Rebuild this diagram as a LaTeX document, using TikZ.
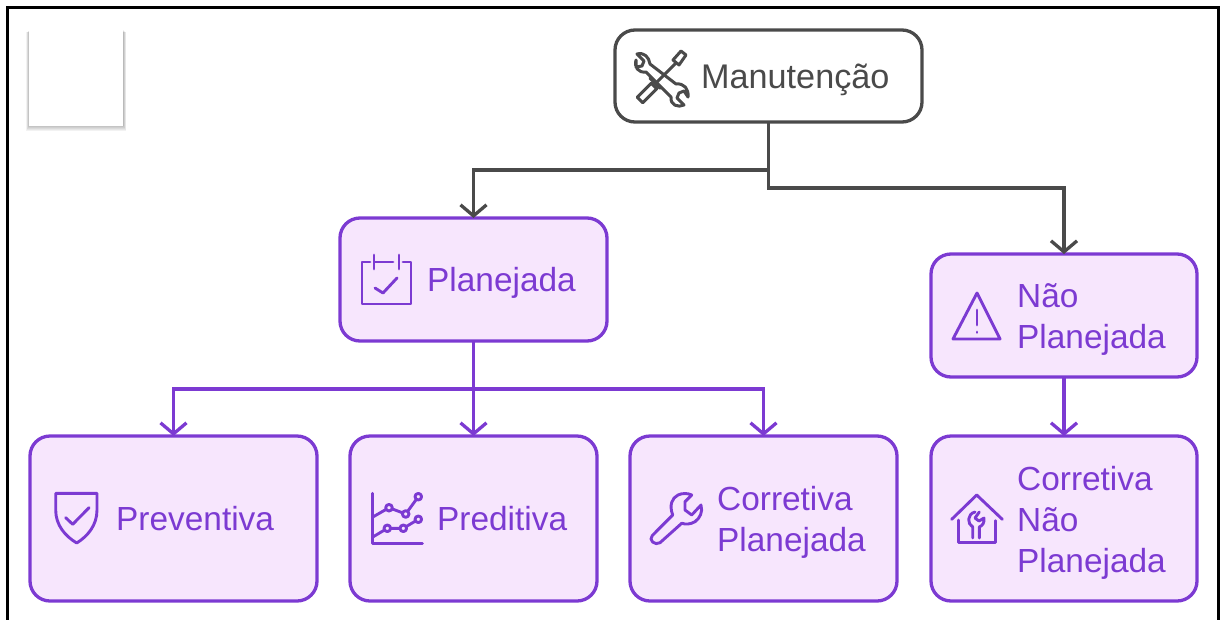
\documentclass[tikz,border=0pt]{standalone}
\usepackage{fontspec}
\usepackage{xcolor}
\setmainfont{Liberation Sans}
\usetikzlibrary{arrows.meta}
\definecolor{boxpurple}{HTML}{7C3AD2}
\definecolor{boxfill}{HTML}{F7E6FD}
\definecolor{darkline}{HTML}{4A4A4A}

\begin{document}
\begin{tikzpicture}[x=1pt, y=-1pt,
rootbox/.style={draw=darkline, line width=3.3pt, fill=white, rounded corners=20pt, outer sep=0pt, inner sep=0pt},
typebox/.style={draw=boxpurple, line width=3.3pt, fill=boxfill, rounded corners=20pt, outer sep=0pt, inner sep=0pt},
rootlabel/.style={anchor=west, inner sep=0pt, align=left, text=darkline, font=\fontsize{34.2}{41}\selectfont},
typelabel/.style={anchor=west, inner sep=0pt, align=left, text=boxpurple, font=\fontsize{33.4}{41}\selectfont},
rootlink/.style={draw=darkline, line width=3.3pt, -{Straight Barb[length=11pt, width=26pt, line width=3.3pt]}},
typelink/.style={draw=boxpurple, line width=3.3pt, -{Straight Barb[length=11pt, width=26pt, line width=3.3pt]}},
rooticon/.style={draw=darkline, line width=3pt, line cap=round, line join=round},
typeicon/.style={draw=boxpurple, line width=2.9pt, line cap=round, line join=round}]

\useasboundingbox (0,0) rectangle (1221,619);

% Outer frame, open at the bottom
\draw[black, line width=3pt] (7,625) -- (7,7) -- (1218,7) -- (1218,625);

% Blank white card with its soft shadow
\foreach \d in {6,5,4,3,2,1}{
\fill[black, opacity=0.05] (29-\d*0.5,30+\d*0.4) rectangle (123+\d*0.5,125+\d);
}
\node[fill=white, minimum width=94pt, minimum height=98pt, inner sep=0pt, outer sep=0pt] (blank) at (76,77) {};

% Boxes
\node[rootbox, minimum width=307pt, minimum height=92pt] (manut) at (768.5,76) {};
\node[typebox, minimum width=267pt, minimum height=123pt] (plan) at (473.5,279.5) {};
\node[typebox, minimum width=266pt, minimum height=123pt] (naoplan) at (1064,315.5) {};
\node[typebox, minimum width=287pt, minimum height=165pt] (prev) at (173.5,518.5) {};
\node[typebox, minimum width=247pt, minimum height=165pt] (pred) at (473.5,518.5) {};
\node[typebox, minimum width=267pt, minimum height=165pt] (corrplan) at (763.5,518.5) {};
\node[typebox, minimum width=266pt, minimum height=165pt] (corrnao) at (1064,518.5) {};

% Labels
\node[rootlabel] (manuttext) at (701,80) {Manutenção};
\node[typelabel] (plantext) at (427,283) {Planejada};
\node[typelabel] (naoplantext) at (1017,319) {Não\\Planejada};
\node[typelabel] (prevtext) at (116,519) {Preventiva};
\node[typelabel] (predtext) at (437,519) {Preditiva};
\node[typelabel] (corrplantext) at (717,522) {Corretiva\\Planejada};
\node[typelabel] (corrnaotext) at (1017,523) {Corretiva\\Não\\Planejada};

% Connectors
\draw[rootlink] (manut.south) -- ++(0,48) -| (plan.north);
\draw[rootlink] (manut.south) -- ++(0,66) -| (naoplan.north);
\draw[typelink] (plan.south) -- ++(0,48) -| (prev.north);
\draw[typelink] (plan.south) -- (pred.north);
\draw[typelink] (plan.south) -- ++(0,48) -| (corrplan.north);
\draw[typelink] (naoplan.south) -- (corrnao.north);

% Icon: tools
\draw[rooticon] (637.2,97.2) -- (651.2,83.2) -- (656.8,88.8) -- (642.8,102.8) -- cycle;
\draw[rooticon] (650,78.3) -- (660,88.3);
\draw[rooticon] (657,82) -- (676,63);
\draw[rooticon] (673,60) -- (681,51) -- (686,55) -- (679,65) -- cycle;
\draw[rooticon] (650,64) .. controls (649,57) and (644,52) .. (637,54) -- (644,61) -- (642,66) -- (636,67)
-- (636,60) .. controls (634,67) and (638,73) .. (646,72) -- (671,97) .. controls (670,105) and (678,108) .. (684,105)
-- (677,98) -- (679,93) -- (684,91) -- (688,97) .. controls (689,89) and (684,83) .. (676,84) -- cycle;

% Icon: calendar
\draw[typeicon] (370,262) -- (362,262) -- (362,304) -- (411,304) -- (411,262) -- (403,262);
\draw[typeicon] (374,255) -- (374,269) (399,255) -- (399,269) (375,262) -- (393,262);
\draw[typeicon] (375,288) -- (383,293) -- (397,278);

% Icon: warning
\draw[typeicon] (977,293) -- (953,339) -- (1000,339) -- cycle;
\draw[typeicon] (977,310) -- (977,325) (977,332) -- (977,332.5);

% Icon: shield
\draw[typeicon] (55.7,493.3) -- (97,493.3) -- (97,510) .. controls (97,525) and (88,536) .. (76.7,543)
.. controls (65,536) and (55.7,525) .. (55.7,510) -- cycle;
\draw[typeicon] (65.7,517.7) -- (72.7,524.3) -- (89,507.7);

% Icon: chart
\draw[typeicon] (372.3,493.3) -- (372.3,543.3) -- (422.3,543.3);
\draw[typeicon] (372.3,517.3) -- (389,507.7) -- (405.7,514) -- (418.3,496.7);
\draw[typeicon] (372.3,537.3) -- (387.3,528.3) -- (403.3,528.3) -- (418.3,519.3);
\foreach \px/\py in {389/507.7, 405.7/514, 418.3/496.7, 387.3/528.3, 403.3/528.3, 418.3/519.3}{
\draw[typeicon, fill=boxfill] (\px,\py) circle (3.3pt);
}

% Icon: wrench
\draw[typeicon] (652.3,535.5) -- (672.7,515) .. controls (669,505) and (672,498) .. (678,495)
.. controls (682,493) and (688,493) .. (691.7,495) -- (685,501.7) -- (685,510) -- (691.7,515) -- (701,505)
.. controls (703,512) and (700,518) .. (695,521.7) .. controls (690,524.5) and (686,524.5) .. (681.7,523.3)
-- (660,542.7) .. controls (655,546) and (648,540) .. (652.3,535.5) -- cycle;

% Icon: house
\draw[typeicon] (951.7,519.3) -- (976.7,495) -- (1002.3,519.3);
\draw[typeicon] (958.3,520) -- (958.3,542.7) -- (995.7,542.7) -- (995.7,520.7);
\draw[typeicon] (972.7,538) -- (972.7,527) .. controls (967,524) and (967,514) .. (975,512)
(979.3,538) -- (979.3,527) .. controls (983,525.5) and (984.5,522) .. (984,518) -- (979,521) -- (975,518) -- (979.3,512);
\end{tikzpicture}
\end{document}
